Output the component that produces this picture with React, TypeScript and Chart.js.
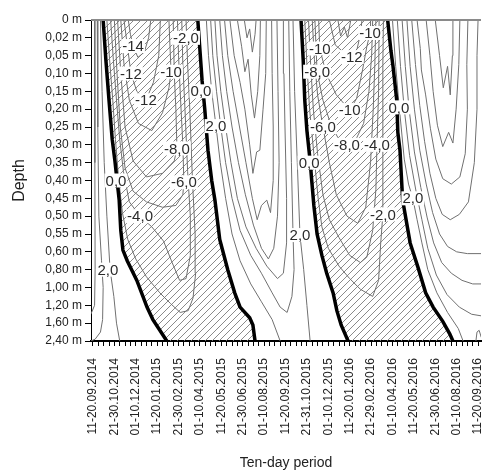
import { useEffect, useRef } from "react";
import { Chart, registerables } from "chart.js";

Chart.register(...registerables);

// ---------- axis labels ----------
const depthLabels = [
  "0 m", "0,02 m", "0,05 m", "0,10 m", "0,15 m", "0,20 m", "0,25 m", "0,30 m", "0,35 m",
  "0,40 m", "0,45 m", "0,50 m", "0,55 m", "0,60 m", "0,80 m", "1,00 m", "1,20 m", "1,60 m", "2,40 m",
];
const periodLabels = [
  "11-20.09.2014", "21-30.10.2014", "01-10.12.2014", "11-20.01.2015", "21-30.02.2015",
  "01-10.04.2015", "11-20.05.2015", "21-30.06.2015", "01-10.08.2015", "11-20.09.2015",
  "21-31.10.2015", "01-10.12.2015", "11-20.01.2016", "21-29.02.2016", "01-10.04.2016",
  "11-20.05.2016", "21-30.06.2016", "01-10.08.2016", "11-20.09.2016",
];
const LABEL_STEP = 4; // ten-day periods between labelled ticks
const PERIOD_COUNT = (periodLabels.length - 1) * LABEL_STEP + 1;

type Pt = [number, number]; // [ten-day period index, depth index]

// ---------- 0,0 °C isolines (thick) ----------
const freeze2014: Pt[] = [[1.9,0],[2.4,2.2],[3.0,4.5],[3.6,6.7],[4.1,7.9],[4.5,9.0],[4.9,10.1],[5.2,11.8],[5.6,12.9],[6.4,13.5],[8.2,14.6],[10.1,16.1],[11.2,16.8],[12.5,17.4],[13.8,18]];
const thaw2015: Pt[] = [[19.6,0],[20.0,1.7],[20.4,3.4],[20.9,5.0],[21.5,7.3],[22.2,9.0],[22.8,10.1],[23.7,12.3],[25.2,14.0],[26.5,15.3],[27.5,16.1],[29.3,16.7],[29.9,17.1],[30.3,18]];
const freeze2015: Pt[] = [[38.9,0],[39.3,2.2],[39.6,4.5],[40.0,6.2],[40.6,7.9],[40.9,9.0],[41.3,10.4],[41.9,12.0],[42.8,13.2],[43.7,14.2],[44.9,15.3],[45.6,16.3],[46.4,17.1],[47.7,18]];
const thaw2016: Pt[] = [[55.1,0],[55.7,1.7],[56.1,2.6],[56.8,4.5],[57.0,6.3],[57.4,7.3],[57.9,10.1],[59.3,12.5],[60.8,13.9],[62.2,15.3],[63.6,16.1],[65.4,16.9],[66.7,17.6],[67.3,18]];

// ---------- autumn 2014 (positive) ----------
const a14p2: Pt[] = [[1.4,0],[1.7,4],[2.1,8],[2.6,11],[3.2,14],[3.9,15.5],[4.4,17],[5.0,18]];
const a14p4: Pt[] = [[0.8,0],[0.9,6],[1.1,11],[1.6,13.5],[1.9,15],[1.8,16.8],[1.4,17.5],[0.4,17.9],[-0.4,18]];
const a14p6: Pt[] = [[0.3,0],[0.35,8],[0.4,14],[0.3,16],[-0.4,16.5]];

// ---------- winter 2014/15 (negative) ----------
const w15m2: Pt[] = [[2.6,0],[3.1,2.2],[3.7,4.5],[4.2,6.7],[4.8,8.9],[5.5,10.8],[6.5,12.3],[8.0,13.4],[10.0,14.4],[12.5,15.3],[14.5,15.9],[16.3,16.4],[17.8,16.3],[18.7,15.6],[19.2,14.2],[19.1,12],[18.6,9],[18.1,5],[17.7,2.5],[17.4,0]];
const w15m4: Pt[] = [[3.3,0],[3.8,2.2],[4.4,4.5],[5.0,6.7],[5.7,8.5],[6.8,10.2],[8.8,11.0],[11,11.6],[13.2,12.4],[14.8,13.6],[16.2,14.6],[17.4,14.5],[18.2,13.2],[18.2,11],[17.7,8.5],[17.2,5],[16.8,2.5],[16.6,0]];
const w15m6: Pt[] = [[4.0,0],[4.5,3],[5.1,6],[6.0,8.3],[7.5,9.6],[10,10.2],[13,10.5],[15.5,10.4],[16.8,9.8],[17.0,9.1],[16.8,7],[16.3,4],[16.0,2],[15.8,0]];
const w15m8: Pt[] = [[4.6,0],[5.2,3],[6.0,6],[7.5,7.9],[10,8.8],[13,8.6],[15.2,7.9],[15.7,7.2],[15.5,5],[15.2,3],[15.0,0]];
const w15m10: Pt[] = [[5.2,0],[5.8,2.5],[6.8,4.5],[8.5,5.8],[11,6.2],[13,5.2],[14.2,3.8],[14.6,2.9],[14.4,1.5],[14.2,0]];
const w15m12: Pt[] = [[5.8,0],[6.5,1.6],[7.1,3.0],[8.2,4.0],[9.9,4.5],[11.3,3.5],[12.3,2],[12.6,0]];
const w15m14: Pt[] = [[6.6,0],[7.0,0.8],[7.5,1.46],[8.4,2.1],[9.6,1.8],[10.4,1.0],[10.8,0]];

// ---------- summer 2015 (positive) ----------
const s15p2a: Pt[] = [[21.2,0],[21.6,2],[22.2,4],[23.0,5.95],[23.8,8],[24.8,10],[26,12],[27.5,13.5],[29.5,14.8],[31.5,15.8],[33.5,16.8],[35,18]];
const s15p2b: Pt[] = [[37.4,0],[37.7,4],[38.2,8],[38.7,12.06],[39.4,14],[40.0,16],[40.6,18]];
const s15p4: Pt[] = [[22.0,0],[22.4,2],[23.1,4],[23.9,6],[24.8,8],[26,10],[27.5,11.8],[29.5,13.2],[31.5,14.2],[33.5,15.3],[35,16.1],[36.3,16.4],[37.2,15.5],[37.6,14],[37.4,12],[37.1,8],[36.8,4],[36.6,0]];
const s15p6: Pt[] = [[22.8,0],[23.2,2],[23.9,4],[24.8,6],[25.8,8],[27,10],[28.6,11.6],[30.5,12.8],[32.5,13.8],[34.5,14.5],[35.6,14.2],[36.2,12.5],[36.2,10],[35.9,6],[35.7,3],[35.6,0]];
const s15p8: Pt[] = [[23.7,0],[24.2,2],[25,4],[26,6],[27.2,8],[28.5,9.8],[30,11.5],[31.5,12.8],[32.8,13.4],[33.8,12.8],[34.5,11],[34.8,8],[34.6,4],[34.4,0]];
const s15p10: Pt[] = [[24.6,0],[25.2,2],[26.2,4],[27.4,6],[28.6,8],[29.8,10],[30.7,11.2],[31.5,10.4],[32.5,10.1],[33.2,10.8],[33.7,9],[33.7,6],[33.5,3],[33.4,0]];
const s15p12: Pt[] = [[25.6,0],[26.4,2],[27.5,3.5],[28.4,5],[29.3,7],[29.9,8.6],[30.6,7.4],[31.2,7.3],[31.8,5],[32.3,3],[32.4,0]];
const s15p14: Pt[] = [[27.0,0],[27.8,1.5],[28.4,2.9],[29,2.2],[29.6,4.2],[30.2,5.5],[30.8,4],[31.2,2],[31.3,0]];
const s15p16: Pt[] = [[28.3,0],[28.8,1],[29.3,0.5],[29.8,1.8],[30.3,0.8],[30.5,0]];

// ---------- winter 2015/16 (negative) ----------
const w16m2: Pt[] = [[39.6,0],[40.0,2.5],[40.5,5],[41.3,7.5],[42.1,10],[42.8,11.6],[44,12.8],[46,13.8],[48,14.5],[50,15.1],[52.3,15.5],[53.4,14.6],[53.8,12.5],[54.2,10.9],[54.2,8],[54.2,5],[54.2,2.5],[54.3,0]];
const w16m4: Pt[] = [[40.3,0],[40.7,2.5],[41.2,5],[42.0,7.5],[43.0,9.8],[44.2,11.2],[46,12.2],[48,13.2],[50,13.6],[51.2,13.3],[52.3,11.8],[52.9,9.5],[53.1,7.0],[53.4,4],[53.5,0]];
const w16m6: Pt[] = [[41.0,0],[41.4,2.2],[42.0,4.2],[43.0,6.0],[44.2,8],[45.5,9.8],[47.5,11.0],[49.5,11.4],[51,10.5],[51.9,8],[52.4,5],[52.7,2.5],[52.9,0]];
const w16m8: Pt[] = [[41.5,0],[41.7,1.5],[41.9,2.9],[43,4.5],[44.5,5.9],[46,6.7],[47.5,7.0],[49,6.8],[50.6,5.8],[51.6,4],[52.1,2],[52.3,0]];
const w16m10: Pt[] = [[42.2,0],[42.4,1.6],[43.6,3.0],[45.5,4.2],[48.0,5.05],[49.3,4.4],[50.4,2.8],[51.2,1.5],[51.8,0.73],[51.9,0]];
const w16m12: Pt[] = [[44.2,0],[45.3,1.4],[47.2,1.9],[48.4,2.08],[49.4,1.6],[50,0.8],[50.3,0]];
const w16m14: Pt[] = [[45.8,0],[46.3,0.9],[47.0,0.4],[47.6,1.0],[48.2,0]];

// ---------- summer 2016 (positive) ----------
const s16p2: Pt[] = [[56.0,0],[56.6,2.6],[57.3,5],[58.2,7.8],[59.0,9.2],[59.8,10.0],[60.6,11.2],[61.5,12.5],[62.6,14],[64.3,15.3],[66.3,16.4],[68.3,17.3],[69.2,18]];
const s16p4: Pt[] = [[56.9,0],[57.5,2.6],[58.2,5],[59.2,7.6],[60.4,9.6],[61.5,11.2],[62.6,12.8],[64.2,14.3],[66.2,15.4],[68.5,16.1],[70.8,16.5],[72.8,16.6]];
const s16p6: Pt[] = [[57.8,0],[58.4,2.6],[59.1,5],[60.1,7.4],[61.3,9.4],[62.5,11.1],[63.7,12.5],[65.2,13.6],[67,14.2],[69,14.6],[71,14.8],[72.8,14.8]];
const s16p8: Pt[] = [[58.7,0],[59.3,2.6],[60.1,5],[61.1,7.3],[62.3,9.2],[63.5,10.8],[64.8,12],[66.3,12.7],[68,13],[70,13.1],[72.8,13.1]];
const s16p10: Pt[] = [[59.6,0],[60.3,2.5],[61.1,4.8],[62,6.8],[63,8.6],[64.1,10.0],[65.3,10.9],[66.8,11.2],[68.5,10.9],[70.2,10.2],[71.3,8],[71.8,5],[71.8,2],[72,0]];
const s16p12: Pt[] = [[60.6,0],[61.2,1.6],[61.4,2.8],[62.2,4.2],[63.1,6.1],[64.1,7.8],[65.4,8.9],[67,9.2],[68.6,8.8],[69.6,7.5],[70.0,5],[69.9,2.5],[70.1,0]];
const s16p14: Pt[] = [[62.3,0],[63,2],[63.6,4],[64.4,5.9],[65.4,7.1],[66.5,6.3],[67.3,6.9],[67.9,5],[68.4,2.5],[68.6,0]];
const s16p16: Pt[] = [[64.0,0],[64.8,2],[65.5,3.8],[66.3,2.6],[66.8,4.2],[67.2,2],[67.3,0]];
const s16loop: Pt[] = [[71.6,18],[71.8,17.5],[72.2,17.4],[72.6,17.8]];

const zeroLines = [freeze2014, thaw2015, freeze2015, thaw2016];
const frozenZones: [Pt[], Pt[]][] = [[freeze2014, thaw2015], [freeze2015, thaw2016]];
const thinLines = [
  a14p2, a14p4, a14p6,
  w15m2, w15m4, w15m6, w15m8, w15m10, w15m12, w15m14,
  s15p2a, s15p2b, s15p4, s15p6, s15p8, s15p10, s15p12, s15p14, s15p16,
  w16m2, w16m4, w16m6, w16m8, w16m10, w16m12, w16m14,
  s16p2, s16p4, s16p6, s16p8, s16p10, s16p12, s16p14, s16p16, s16loop,
];

// contour labels: [text, period index, depth index]
const isoLabels: [string, number, number][] = [
  ["0,0", 4.3, 9.0], ["0,0", 20.2, 4.0], ["0,0", 40.4, 8.0], ["0,0", 57.2, 4.9],
  ["-14", 7.5, 1.46], ["-12", 7.1, 3.0], ["-12", 9.9, 4.5], ["-10", 14.6, 2.9],
  ["-2,0", 17.4, 1.0], ["2,0", 23.0, 5.95], ["-8,0", 15.7, 7.2], ["-6,0", 17.0, 9.1],
  ["-4,0", 8.8, 11.0], ["2,0", 2.8, 14.0], ["2,0", 38.7, 12.06],
  ["-10", 42.4, 1.6], ["-10", 51.8, 0.73], ["-12", 48.4, 2.08], ["-8,0", 41.9, 2.9],
  ["-10", 48.0, 5.05], ["-6,0", 43.0, 6.0], ["-8,0", 47.5, 7.0], ["-4,0", 53.1, 7.0],
  ["-2,0", 54.2, 10.9], ["2,0", 59.8, 10.0],
];

const FONT = '"Liberation Sans", Arial, sans-serif';

function makeHatch(): CanvasPattern | string {
  const c = document.createElement("canvas");
  const s = 7;
  c.width = s;
  c.height = s;
  const g = c.getContext("2d");
  if (!g) return "#ddd";
  g.strokeStyle = "#7d7d7d";
  g.lineWidth = 0.9;
  g.beginPath();
  g.moveTo(0, s); g.lineTo(s, 0);
  g.moveTo(-1, 1); g.lineTo(1, -1);
  g.moveTo(s - 1, s + 1); g.lineTo(s + 1, s - 1);
  g.stroke();
  return g.createPattern(c, "repeat") || "#ddd";
}

export default function App() {
  const ref = useRef<HTMLCanvasElement | null>(null);

  useEffect(() => {
    document.body.style.margin = "0";
    const canvas = ref.current;
    if (!canvas) return;
    const hatch = makeHatch();

    const toXY = (pts: Pt[]) => pts.map(([x, y]) => ({ x, y }));

    const hatchPlugin = {
      id: "hatch",
      beforeDatasetsDraw(chart: any) {
        const { ctx, chartArea } = chart;
        const xs = chart.scales.x;
        const ys = chart.scales.y;
        ctx.save();
        ctx.beginPath();
        ctx.rect(chartArea.left, chartArea.top, chartArea.right - chartArea.left, chartArea.bottom - chartArea.top);
        ctx.clip();
        for (const [a, b] of frozenZones) {
          const poly = [...a, ...[...b].reverse()];
          ctx.beginPath();
          poly.forEach(([x, y], i) => {
            const px = xs.getPixelForValue(x);
            const py = ys.getPixelForValue(y);
            if (i === 0) ctx.moveTo(px, py);
            else ctx.lineTo(px, py);
          });
          ctx.closePath();
          ctx.fillStyle = hatch;
          ctx.fill();
        }
        ctx.restore();
      },
    };

    const labelPlugin = {
      id: "isoLabels",
      afterDatasetsDraw(chart: any) {
        const { ctx } = chart;
        const xs = chart.scales.x;
        const ys = chart.scales.y;
        ctx.save();
        ctx.font = `15px ${FONT}`;
        ctx.textAlign = "center";
        ctx.textBaseline = "middle";
        for (const [t, x, y] of isoLabels) {
          const px = xs.getPixelForValue(x);
          const py = ys.getPixelForValue(y);
          const w = ctx.measureText(t).width;
          ctx.fillStyle = "#ffffff";
          ctx.fillRect(px - w / 2 - 1, py - 7, w + 2, 14);
          ctx.fillStyle = "#2b2b2b";
          ctx.fillText(t, px, py + 1);
        }
        ctx.restore();
      },
      afterDraw(chart: any) {
        const { ctx, chartArea } = chart;
        ctx.save();
        ctx.strokeStyle = "#8a8a8a";
        ctx.lineWidth = 2;
        ctx.beginPath();
        ctx.moveTo(chartArea.left, chartArea.top);
        ctx.lineTo(chartArea.right, chartArea.top);
        ctx.stroke();
        ctx.restore();
      },
    };

    const chart = new Chart(canvas, {
      type: "line",
      data: {
        datasets: [
          ...zeroLines.map((l) => ({
            data: toXY(l),
            borderColor: "#000000",
            borderWidth: 3.5,
            pointRadius: 0,
            fill: false,
            tension: 0,
            order: 1,
          })),
          ...thinLines.map((l) => ({
            data: toXY(l),
            borderColor: "#707070",
            borderWidth: 1,
            pointRadius: 0,
            fill: false,
            tension: 0,
            order: 2,
          })),
        ],
      },
      options: {
        animation: false,
        responsive: false,
        maintainAspectRatio: false,
        devicePixelRatio: 1,
        layout: { padding: { top: 20, right: 1, left: 0, bottom: 0 } },
        plugins: { legend: { display: false }, tooltip: { enabled: false } },
        scales: {
          x: {
            type: "linear",
            min: -0.37,
            max: 72.55,
            afterBuildTicks: (s: any) => {
              s.ticks = Array.from({ length: PERIOD_COUNT }, (_, i) => ({ value: i }));
            },
            afterFit: (s: any) => {
              s.height = 132;
              s.paddingLeft = 0;
              s.paddingRight = 0;
            },
            ticks: {
              autoSkip: false,
              minRotation: 90,
              maxRotation: 90,
              padding: 12,
              color: "#222",
              font: { size: 12, family: FONT },
              callback: (value: any) => {
                const v = Math.round(Number(value));
                return v % LABEL_STEP === 0 ? periodLabels[v / LABEL_STEP] : "";
              },
            },
            grid: { drawOnChartArea: false, tickLength: 5, color: "#000" },
            border: { color: "#000", width: 2 },
            title: {
              display: true,
              text: "Ten-day period",
              color: "#222",
              font: { size: 14, family: FONT },
              padding: { top: 0, bottom: 1 },
            },
          },
          y: {
            type: "linear",
            reverse: true,
            min: 0,
            max: depthLabels.length - 1,
            afterBuildTicks: (s: any) => {
              s.ticks = depthLabels.map((_, i) => ({ value: i }));
            },
            afterFit: (s: any) => {
              s.width = 91;
              s.paddingTop = 0;
              s.paddingBottom = 0;
            },
            ticks: {
              autoSkip: false,
              padding: 3,
              color: "#222",
              font: { size: 12, family: FONT },
              callback: (value: any) => depthLabels[Math.round(Number(value))] ?? "",
            },
            grid: { drawOnChartArea: false, tickLength: 6, color: "#000" },
            border: { color: "#000", width: 1 },
            title: {
              display: true,
              text: "Depth",
              color: "#222",
              font: { size: 16, family: FONT },
              padding: { top: 10, bottom: 0 },
            },
          },
        },
      },
      plugins: [hatchPlugin, labelPlugin],
    } as any);

    return () => chart.destroy();
  }, []);

  return (
    <div style={{ width: 482, height: 473 }}>
      <canvas ref={ref} width={482} height={473} style={{ display: "block" }} />
    </div>
  );
}
